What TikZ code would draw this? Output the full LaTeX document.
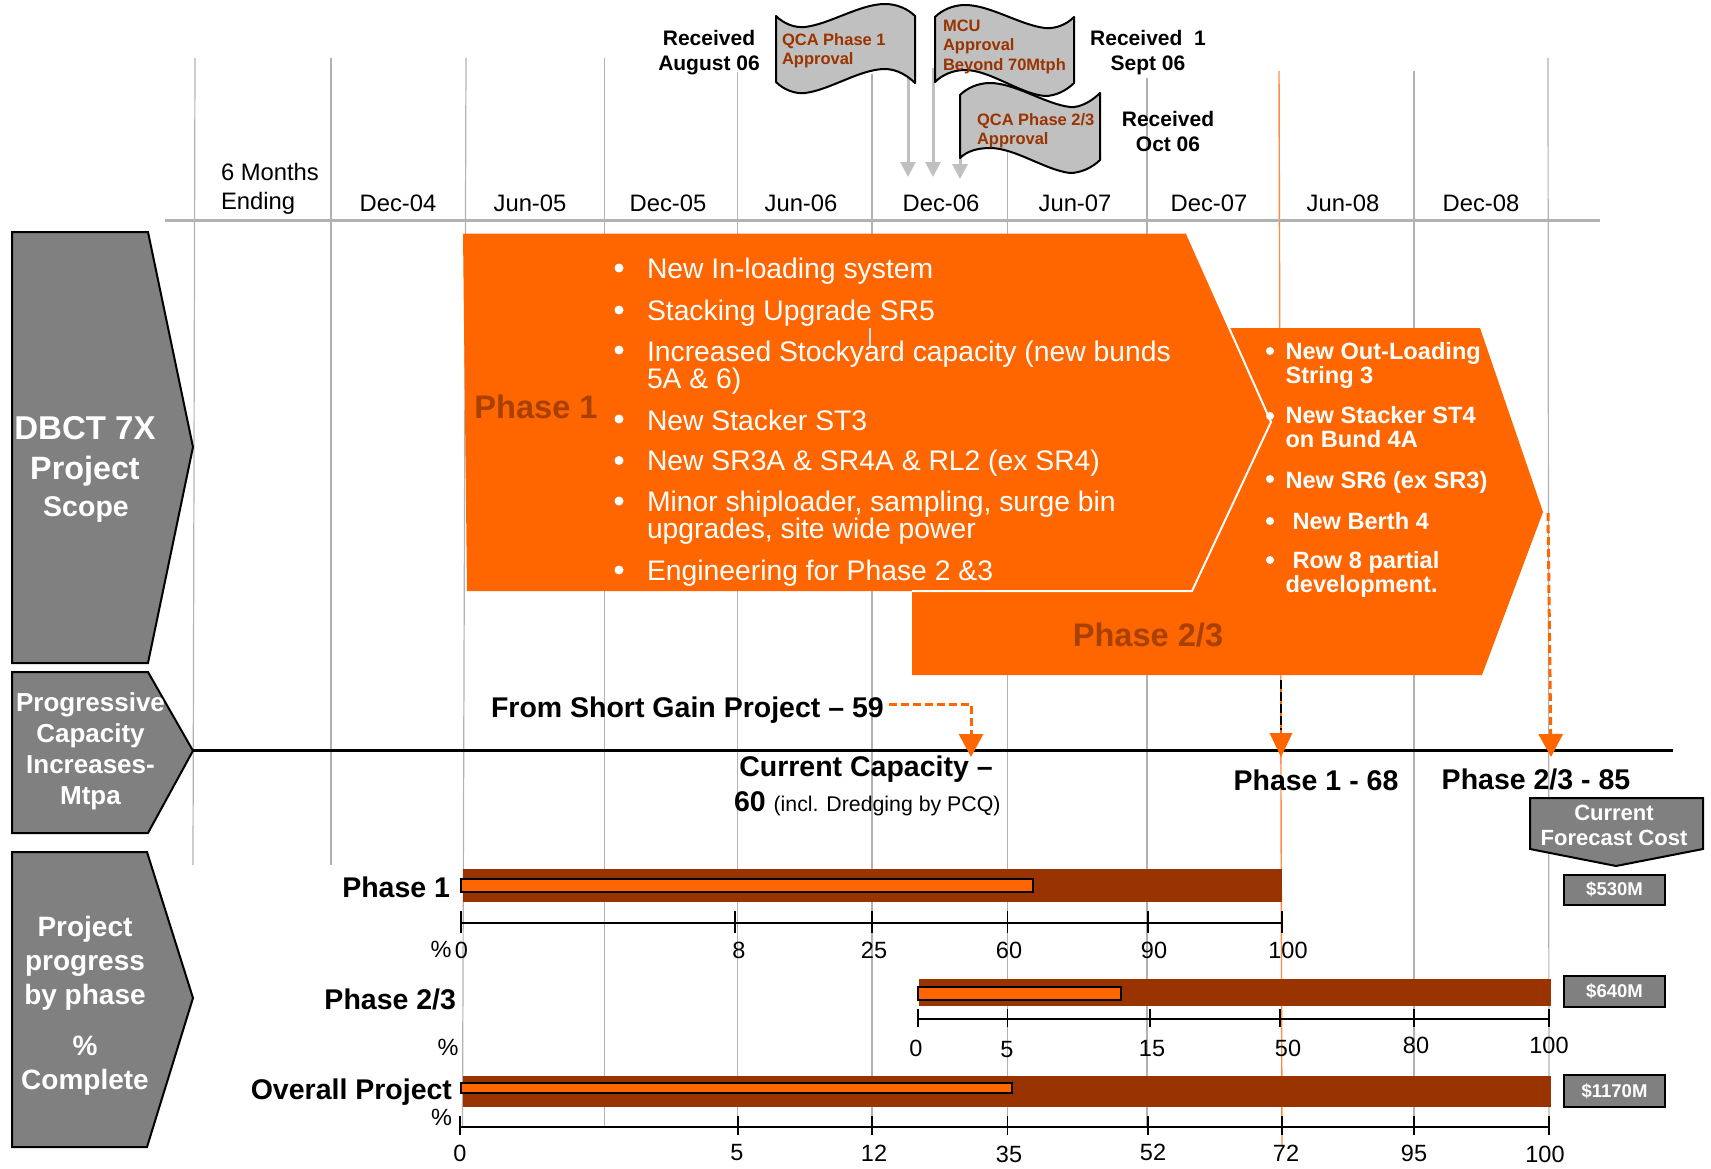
\documentclass[tikz,border=0pt]{standalone}
\usepackage{fontspec}
\setmainfont{Liberation Sans}
\usetikzlibrary{arrows.meta}
\definecolor{orng}{HTML}{FF6600}
\definecolor{rust}{HTML}{993300}
\definecolor{phtxt}{HTML}{A84000}
\definecolor{grid}{HTML}{B2B2B2}
\definecolor{chev}{HTML}{808080}
\definecolor{flagc}{HTML}{C0C0C0}
\newcommand{\szz}[2]{\fontsize{#1}{#2}\selectfont}
\tikzset{
  txt/.style={inner sep=0pt,outer sep=0pt},
  datelab/.style={txt,font=\szz{23.8}{29}},
  recv/.style={txt,align=center,font=\szz{21}{25}\bfseries},
  flagtxt/.style={txt,anchor=west,align=left,text=rust,font=\szz{16.5}{19.5}\bfseries},
  gridl/.style={draw=grid,line width=1.2pt},
  chevron/.style={fill=chev,draw=black,line width=2pt,line join=miter},
  chevtxt/.style={txt,align=center,text=white,font=\bfseries},
  flagshape/.style={fill=flagc,draw=black,line width=2pt,line join=round},
  flagarrow/.style={draw=flagc,line width=3pt,-{Triangle[length=15pt,width=15pt]}},
  bulleta/.style={circle,fill=white,inner sep=0pt,minimum size=9pt},
  bulletb/.style={circle,fill=white,inner sep=0pt,minimum size=8pt},
  itema/.style={txt,anchor=west,text=white,align=left,font=\szz{28.3}{27.5}},
  itemb/.style={txt,anchor=west,text=white,align=left,font=\szz{23.6}{24}\bfseries},
  phname/.style={txt,text=phtxt,font=\szz{32.6}{36}\bfseries},
  captxt/.style={txt,font=\szz{28.5}{32}\bfseries},
  orarrow/.style={draw=orng,line width=3pt,dash pattern=on 8pt off 4pt,-{Triangle[length=23pt,width=24pt]}},
  barbg/.style={fill=rust},
  barfg/.style={fill=orng,draw=black,line width=2pt},
  axisl/.style={draw=black,line width=1.7pt},
  num/.style={txt,font=\szz{23.5}{28}},
  costbox/.style={fill=chev,draw=black,line width=2pt,minimum width=101pt,text=white,inner sep=0pt,font=\szz{18.5}{20}\bfseries},
  phlabel/.style={txt,anchor=east,font=\szz{28.5}{32}\bfseries},
}
\begin{document}
\begin{tikzpicture}[x=1pt,y=-1pt]
\useasboundingbox (0,0) rectangle (1711,1168);
% named anchors
\coordinate (capTip) at (193,750.7);
\coordinate (capEnd) at (1673,750.7);
\coordinate (axisL) at (165,220.5);
\coordinate (axisR) at (1600,220.5);
\coordinate (f1a) at (908,76);
\coordinate (f1b) at (908,177);
\coordinate (f2a) at (933,68);
\coordinate (f2b) at (933,177);
\coordinate (f3a) at (960,97);
\coordinate (f3b) at (960,179);
\coordinate (shortA) at (889,704);
\coordinate (shortC) at (971,704);
\coordinate (shortB) at (971,757);
\coordinate (ph1A) at (1281,680);
\coordinate (ph1B) at (1281,757);
\coordinate (ph3A) at (1548,513);
\coordinate (ph3B) at (1551,757);
% grid lines
\draw[gridl] (195,58) -- (193,865);
\draw[gridl] (331,58) -- (331,865);
\draw[gridl] (466,58) -- (462.5,1127);
\draw[gridl] (604.5,58) -- (604.5,1127);
\draw[gridl] (737.5,72) -- (737.5,1127);
\draw[gridl] (872,74) -- (872,1127);
\draw[gridl] (1007.5,152) -- (1007.5,1127);
\draw[gridl] (1147,78) -- (1147,1127);
\draw[gridl] (1414,71) -- (1414,1127);
\draw[gridl] (1548,58) -- (1549,1127);
\draw[draw=orng!75,line width=1.4pt] (1279,71) -- (1282,1145);
\draw[draw=grid,line width=3pt] (axisL) -- (axisR);
% date labels
\node[datelab,anchor=west,align=left] (d0) at (221,188.5) {6 Months\\Ending};
\node[datelab] (d1) at (398,203) {Dec-04};
\node[datelab] (d2) at (530,203) {Jun-05};
\node[datelab] (d3) at (668,203) {Dec-05};
\node[datelab] (d4) at (801,203) {Jun-06};
\node[datelab] (d5) at (941,203) {Dec-06};
\node[datelab] (d6) at (1075,203) {Jun-07};
\node[datelab] (d7) at (1209,203) {Dec-07};
\node[datelab] (d8) at (1343,203) {Jun-08};
\node[datelab] (d9) at (1481,203) {Dec-08};
% flag arrows
\draw[flagarrow] (f1a) -- (f1b);
\draw[flagarrow] (f2a) -- (f2b);
\draw[flagarrow] (f3a) -- (f3b);
% flags
\draw[flagshape] (776,16) .. controls (784,24) and (795,28) .. (805,27) .. controls (830,24) and (860,4) .. (885,4) .. controls (897,4) and (908,9) .. (915,16) -- (915,83) .. controls (908,76) and (897,69) .. (885,69) .. controls (860,69) and (830,90) .. (805,93) .. controls (795,94) and (784,90) .. (776,82) -- cycle;
\draw[flagshape] (935,17) .. controls (942,10) and (953,5) .. (965,5) .. controls (990,5) and (1020,25) .. (1045,28) .. controls (1055,29) and (1066,25) .. (1074,17) -- (1074,83) .. controls (1066,91) and (1055,96) .. (1045,96) .. controls (1020,94) and (990,70) .. (965,70) .. controls (953,70) and (942,75) .. (935,82) -- cycle;
\draw[flagshape] (960,95) .. controls (967,88) and (978,83) .. (990,83) .. controls (1015,83) and (1045,104) .. (1070,107) .. controls (1080,108) and (1092,101) .. (1100,93) -- (1100,160) .. controls (1092,168) and (1080,173) .. (1070,173) .. controls (1045,170) and (1015,148) .. (990,148) .. controls (978,148) and (967,151) .. (960,158) -- cycle;
\node[flagtxt] (fl1) at (782,50.5) {QCA Phase 1\\Approval};
\node[flagtxt] (fl2) at (943,46.5) {MCU\\Approval\\Beyond 70Mtph};
\node[flagtxt] (fl3) at (977,130.5) {QCA Phase 2/3\\Approval};
% received
\node[recv] (r1) at (709,53) {Received\\August 06};
\node[recv] (r2) at (1148,52.5) {Received\ \ 1\\Sept 06};
\node[recv] (r3) at (1168,131.5) {Received\\Oct 06};
% left chevrons
\draw[chevron] (12,232) -- (148,232) -- (193,447) -- (148,663) -- (12,663) -- cycle;
\draw[chevron] (12,672) -- (148,672) -- (193,750.7) -- (148,833) -- (12,833) -- cycle;
\draw[chevron] (12,852) -- (147,852) -- (193,998) -- (147,1147) -- (12,1147) -- cycle;
\node[chevtxt,font=\szz{33}{38}\bfseries] (c1a) at (85,428) {DBCT 7X};
\node[chevtxt,font=\szz{32.3}{36}\bfseries] (c1b) at (85,471) {Project};
\node[chevtxt,font=\szz{28.5}{32}\bfseries] (c1c) at (86,509) {Scope};
\node[chevtxt,font=\szz{26}{31}\bfseries] (c2) at (90.5,751.5) {Progressive\\Capacity\\Increases-\\Mtpa};
\node[chevtxt,font=\szz{28}{34}\bfseries] (c3) at (85,963) {Project\\progress\\by phase};
\node[chevtxt,font=\szz{28}{34}\bfseries] (c3b) at (85,1066) {\%\\Complete};
% phase 2/3 chevron
\path[fill=orng] (912,500) -- (1231,328) -- (1480,328) -- (1543,512) -- (1482,675) -- (912,675) -- cycle;
% phase 1 chevron
\path[fill=orng] (463,233.5) -- (1187,233.5) -- (1271,422) -- (1192,591) -- (467,591) -- cycle;
\draw[draw=white,line width=2pt,line join=miter] (1187,233.5) -- (1271,422) -- (1192,591) -- (912,591);
\draw[draw=black!25!cyan!25,line width=1.5pt] (870,328) -- (870,348);
% phase 1 text
\node[phname] (p1n) at (536,407) {Phase 1};
\foreach \y/\n/\t in {271/a/New In-loading system,313/b/Stacking Upgrade SR5,367.5/c/{Increased Stockyard capacity (new bunds\\5A \& 6)},420/d/New Stacker ST3,463/e/New SR3A \& SR4A \& RL2 (ex SR4),517.5/f/{Minor shiploader, sampling, surge bin\\upgrades, site wide power},573/g/Engineering for Phase 2 \&3}
  {\node[itema] (i\n) at (647,\y) {\t};}
\foreach \y/\n in {268/a,310/b,350/c,419/d,460.5/e,501/f,570/g}
  {\node[bulleta] (ba\n) at (619,\y) {};}
% phase 2/3 text
\node[phname] (p3n) at (1148,635) {Phase 2/3};
\foreach \y/\x/\n/\t in {365/1285.5/a/{New Out-Loading\\String 3},427.5/1285.5/b/{New Stacker ST4\\on Bund 4A},482/1285.5/c/New SR6 (ex SR3),521/1292.5/d/New Berth 4}
  {\node[itemb] (j\n) at (\x,\y) {\t};}
\node[itemb] (je) at (1285.5,574) {\hspace*{7pt}Row 8 partial\\development.};
\foreach \y/\n in {351/a,416/b,479/c,521/d,560/e}
  {\node[bulletb] (bb\n) at (1270,\y) {};}
% capacity line
\draw[draw=black,line width=3.5pt] (capTip) -- (capEnd);
\draw[orarrow] (shortA) -- (shortC) -- (shortB);
\draw[draw=orng,line width=1.5pt] (ph1A) -- (1281,735);
\draw[orarrow,draw=black,line width=2.5pt,dash pattern=on 9pt off 3pt,-] (ph1A) -- (1281,730);
\path[fill=orng] (1269.5,733) -- (1292.5,733) -- (ph1B) -- cycle;
\draw[orarrow] (ph3A) -- (ph3B);
\node[captxt,anchor=west] (cp0) at (491,710) {From Short Gain Project – 59};
\node[captxt] (cp1) at (866,769) {Current Capacity –};
\node[txt,anchor=west] (cp2) at (734,804) {\szz{28.5}{32}\bfseries 60 \szz{21.3}{24}\mdseries(incl. Dredging by PCQ)};
\node[captxt] (cp3) at (1316,780) {Phase 1 - 68};
\node[captxt] (cp4) at (1536,779) {Phase 2/3 - 85};
% cost
\draw[chevron] (1530,798) -- (1703,798) -- (1703,849) -- (1616,866) -- (1530,849) -- cycle;
\node[chevtxt,font=\szz{22}{25}\bfseries] (fc) at (1614,825.5) {Current\\Forecast Cost};
\node[costbox,minimum height=30pt] (cb1) at (1614.5,889.5) {\$530M};
\node[costbox,minimum height=31pt] (cb2) at (1614.5,991.5) {\raisebox{2pt}{\$640M}};
\node[costbox,minimum height=32pt] (cb3) at (1614.5,1091) {\raisebox{1pt}{\$1170M}};
% bars
\path[barbg] (462.5,869) rectangle (1282,902);
\path[barbg] (919,979) rectangle (1551,1006);
\path[barbg] (463,1076) rectangle (1551,1107);
\draw[barfg] (461,879) rectangle (1033,892);
\draw[barfg] (918,987) rectangle (1121,1000);
\draw[barfg] (461,1083) rectangle (1012,1093);
% phase labels
\node[phlabel] (l1) at (450,887) {Phase 1};
\node[phlabel] (l2) at (456,999) {Phase 2/3};
\node[phlabel] (l3) at (452,1092) {Overall Project};
% axes
\draw[axisl] (461,923) -- (1282,923);
\foreach \x in {461,735,872,1007.5,1148,1282} \draw[axisl] (\x,911) -- (\x,933);
\draw[axisl] (918,1019) -- (1549,1019);
\foreach \x in {918,1007.5,1150,1280,1414,1549} \draw[axisl] (\x,1009) -- (\x,1027);
\draw[axisl] (460,1127) -- (1549,1127);
\foreach \x in {460,738,872,1007.5,1148,1282,1414,1549} \draw[axisl] (\x,1116) -- (\x,1135);
% numbers
\foreach \x/\y/\n/\t in {441/949/pa/\%,461.5/950/na0/0,739/950/na1/8,874/950/na2/25,1009/950/na3/60,1154/950/na4/90,1288/950/na5/100,
  448/1047/pb/\%,916/1048/nb0/0,1007/1050/nb1/5,1152/1049/nb2/15,1288/1048/nb3/50,1416/1045/nb4/80,1549/1045/nb5/100,
  441.5/1117/pc/\%,460/1153/nc0/0,737/1153/nc1/5,874/1153/nc2/12,1009/1154/nc3/35,1153/1152/nc4/52,1286/1153/nc5/72,1414/1153/nc6/95,1545/1154/nc7/100}
  {\node[num] (\n) at (\x,\y) {\t};}
\end{tikzpicture}
\end{document}
